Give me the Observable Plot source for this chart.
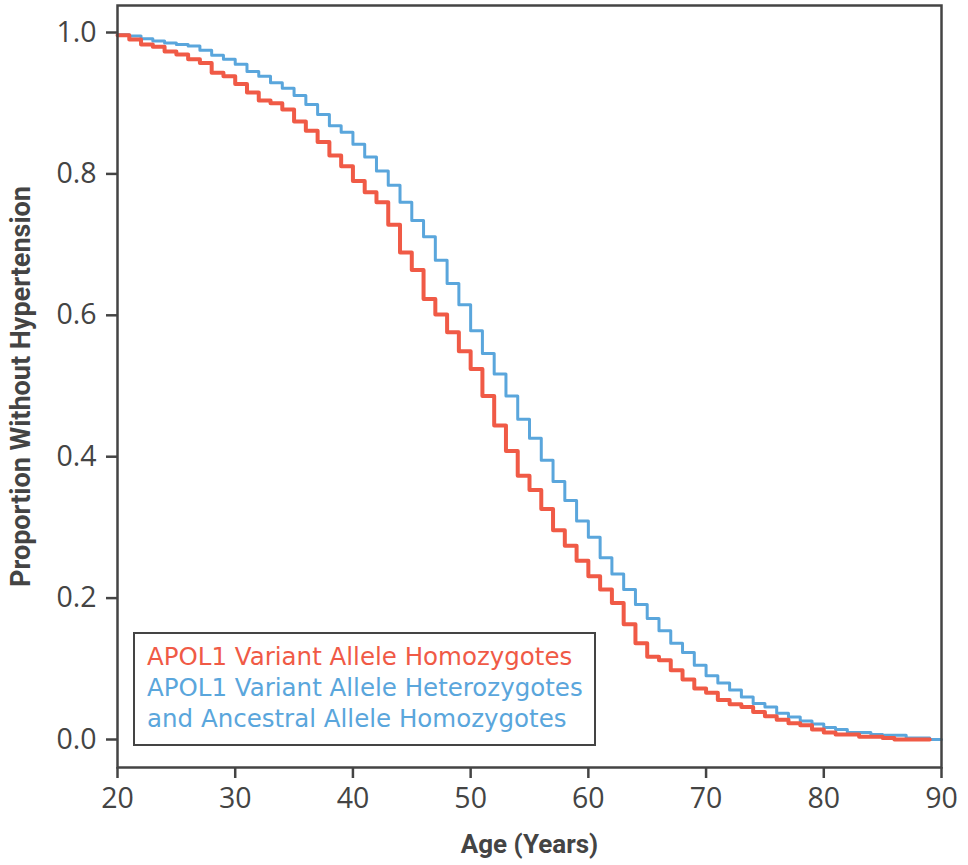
<!DOCTYPE html>
<html>
<head>
<meta charset="utf-8">
<script src="https://cdn.jsdelivr.net/npm/d3@7"></script>
<script src="https://cdn.jsdelivr.net/npm/@observablehq/plot@0.6"></script>
<style>
  body { margin: 0; background: #fff; }
  #wrap { position: relative; width: 968px; height: 865px; }
  #legend {
    position: absolute; left: 133px; top: 632px; width: 463px; height: 114px;
    box-sizing: border-box; border: 2.5px solid #444; background: #fff;
    padding: 6.5px 0 0 12px; font-family: "DejaVu Sans", sans-serif; font-size: 24.5px; line-height: 31px;
    white-space: nowrap;
  }
</style>
</head>
<body>
<div id="wrap">
  <div id="chart"></div>
  <div id="legend">
    <div style="color:#f05a46">APOL1 Variant Allele Homozygotes</div>
    <div style="color:#5aa6dc">APOL1 Variant Allele Heterozygotes</div>
    <div style="color:#5aa6dc">and Ancestral Allele Homozygotes</div>
  </div>
</div>
<script>
// Ages (years) at which each step begins
const homoAges = [20,21,22,23,24,25,26,27,28,29,30,31,32,33,34,35,36,37,38,39,40,41,42,43,44,45,46,47,48,49,50,51,52,53,54,55,56,57,58,59,60,61,62,63,64,65,66,67,68,69,70,71,72,73,74,75,76,77,78,79,80,81,82,83,84,85,86,87,88,89];
const homoValues = [0.996,0.990,0.983,0.980,0.973,0.969,0.962,0.957,0.943,0.938,0.927,0.915,0.904,0.900,0.891,0.874,0.861,0.845,0.826,0.811,0.790,0.774,0.760,0.728,0.689,0.664,0.623,0.601,0.576,0.549,0.524,0.486,0.444,0.408,0.373,0.353,0.326,0.296,0.274,0.253,0.231,0.212,0.193,0.163,0.136,0.117,0.112,0.098,0.085,0.072,0.066,0.056,0.050,0.046,0.039,0.033,0.028,0.023,0.020,0.014,0.010,0.007,0.007,0.004,0.004,0.002,0.000,0.000,0.000,0.000];

const hetAges = [20,21,22,23,24,25,26,27,28,29,30,31,32,33,34,35,36,37,38,39,40,41,42,43,44,45,46,47,48,49,50,51,52,53,54,55,56,57,58,59,60,61,62,63,64,65,66,67,68,69,70,71,72,73,74,75,76,77,78,79,80,81,82,83,84,85,86,87,88,89,90];
const hetValues = [0.997,0.995,0.991,0.988,0.985,0.983,0.981,0.975,0.968,0.962,0.955,0.945,0.938,0.929,0.921,0.911,0.898,0.884,0.868,0.859,0.842,0.824,0.804,0.784,0.760,0.734,0.711,0.678,0.645,0.615,0.578,0.546,0.517,0.486,0.453,0.426,0.395,0.365,0.338,0.309,0.286,0.257,0.234,0.212,0.191,0.171,0.154,0.136,0.123,0.105,0.090,0.080,0.070,0.060,0.051,0.046,0.037,0.032,0.026,0.022,0.017,0.014,0.010,0.010,0.007,0.006,0.006,0.002,0.002,0.000,0.000];

const xTicks = [20,30,40,50,60,70,80,90];
const yTicks = [0,0.2,0.4,0.6,0.8,1.0];
const xTitle = "Age (Years)";
const yTitle = "Proportion Without Hypertension";

const homo = homoAges.map((a,i) => ({age: a, p: homoValues[i]}));
const het = hetAges.map((a,i) => ({age: a, p: hetValues[i]}));

const ink = "#444";
const chart = Plot.plot({
  width: 968, height: 865,
  marginLeft: 117, marginRight: 27, marginTop: 5, marginBottom: 98,
  x: {domain: [20, 90]},
  y: {domain: [-0.0396, 1.0382]},
  style: {fontFamily: "Open Sans, sans-serif", fontSize: "28.5px", color: ink, background: "#fff", overflow: "visible"},
  marks: [
    Plot.axisX({ticks: xTicks, tickSize: 11, tickPadding: 9, tickFormat: d => String(d), label: null, stroke: ink, strokeWidth: 2.5, fill: ink}),
    Plot.axisY({ticks: yTicks, tickSize: 11, tickPadding: 10, tickFormat: d3.format(".1f"), label: null, stroke: ink, strokeWidth: 2.5, fill: ink}),
    Plot.line(het, {x: "age", y: "p", curve: "step-after", stroke: "#5aa6dc", strokeWidth: 3}),
    Plot.line(homo, {x: "age", y: "p", curve: "step-after", stroke: "#f05a46", strokeWidth: 4}),
    Plot.frame({stroke: ink, strokeWidth: 2.5}),
    Plot.text([xTitle], {frameAnchor: "bottom", dy: 85, fontSize: 26, fontWeight: "bold", fontFamily: "Roboto, sans-serif", fill: ink}),
    Plot.text([yTitle], {frameAnchor: "left", textAnchor: "middle", dx: -96, rotate: -90, fontSize: 27, fontWeight: "bold", fontFamily: "Roboto, sans-serif", fill: ink})
  ]
});
document.getElementById("chart").appendChild(chart);
</script>
</body>
</html>
